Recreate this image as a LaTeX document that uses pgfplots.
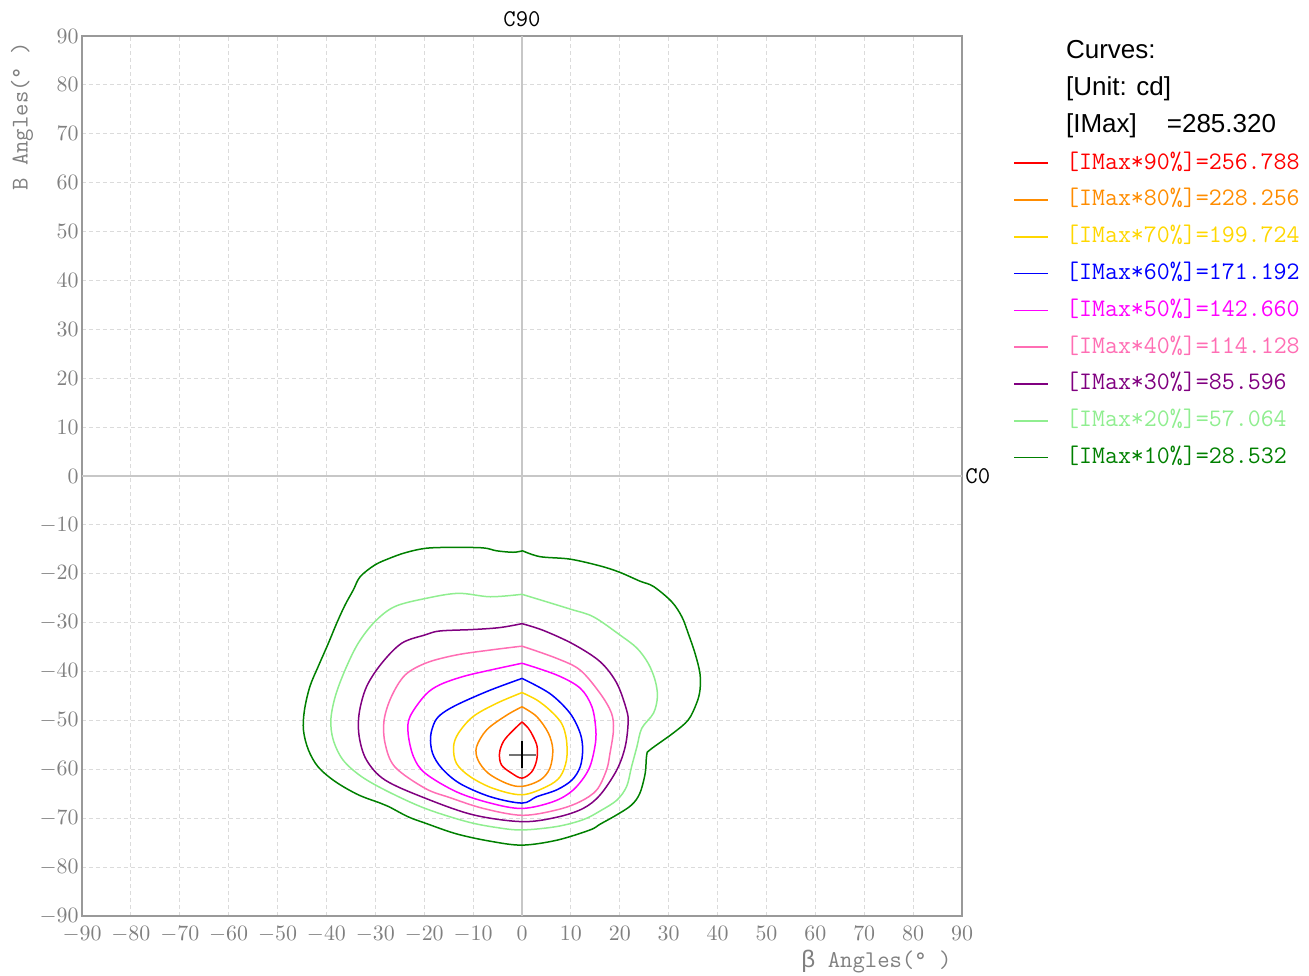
\documentclass[border=0pt]{standalone}
\usepackage{pgfplots}
\pgfplotsset{compat=1.18}
\usepackage{fontspec}
\newfontfamily\sansfont{Liberation Sans}
\newfontfamily\greekmono{Liberation Mono}
\definecolor{cA}{RGB}{255,0,0}
\definecolor{cB}{RGB}{255,140,0}
\definecolor{cC}{RGB}{255,215,0}
\definecolor{cD}{RGB}{0,0,255}
\definecolor{cE}{RGB}{255,0,255}
\definecolor{cF}{RGB}{255,110,180}
\definecolor{cG}{RGB}{128,0,128}
\definecolor{cH}{RGB}{144,238,144}
\definecolor{cI}{RGB}{0,128,0}
\definecolor{tickgray}{RGB}{128,128,128}
\pgfplotsset{ctr/.style={line width=0.75pt, smooth, tension=0.55}}
\begin{document}
\begin{tikzpicture}
\begin{axis}[
  name=ax, anchor=south west, at={(0,0)},
  scale only axis, width=440pt, height=440pt,
  xmin=-90, xmax=90, ymin=-90, ymax=90,
  xtick={-90,-80,...,90}, ytick={-90,-80,...,90},
  major tick length=0pt,
  grid=major,
  grid style={dash pattern=on 2pt off 1.5pt, color=black!14, line width=0.45pt},
  axis line style={color=black!40, line width=0.8pt},
  tick label style={color=tickgray, font=\fontsize{10.5}{12.5}\selectfont},
  yticklabel style={inner xsep=1.5pt, inner ysep=0pt},
  xticklabel style={inner ysep=0.5pt, yshift=-4.5pt},
  extra x ticks={0}, extra x tick labels={},
  extra x tick style={grid style={solid, color=black!22, line width=0.7pt}},
  extra y ticks={0}, extra y tick labels={},
  extra y tick style={grid style={solid, color=black!22, line width=0.7pt}},
  clip=false,
  legend style={at={(1.058,0.995)}, anchor=north west, draw=none, fill=none,
    inner sep=0pt, row sep=6.4pt, column sep=8.5pt,
    nodes={inner sep=0pt, text height=9pt, text depth=3pt},
    font=\ttfamily\fontsize{12.6}{14}\selectfont},
  legend cell align=left,
]
\addlegendimage{empty legend}
\addlegendentry{\sansfont\fontsize{13}{15}\selectfont Curves:}
\addlegendimage{empty legend}
\addlegendentry{\sansfont\fontsize{13}{15}\selectfont [Unit: cd]}
\addlegendimage{empty legend}
\addlegendentry{\sansfont\fontsize{13}{15}\selectfont [IMax]\hspace{15pt}=285.320}

% 90%
\addplot[cA, ctr] coordinates {(0,-50.3) (1.3,-51.6) (2.3,-53.3) (3.1,-55.4) (3,-58.1) (2,-60.5) (0,-61.8) (-2.1,-60.8) (-4.2,-59.1) (-4.6,-56.7) (-3.8,-54.3) (-2.1,-52.3) (0,-50.3)};
\addlegendentry{\textcolor{cA}{[IMax*90\%]=256.788}}
% 80%
\addplot[cB, ctr] coordinates {(0,-47.2) (3,-49.2) (5.4,-52.6) (6.3,-56) (5.7,-59.8) (3.7,-62.2) (0,-63.5) (-3.1,-62.9) (-6.9,-60.8) (-9,-58.1) (-9.3,-55.4) (-7.2,-51.9) (-3.1,-48.9) (0,-47.2)};
\addlegendentry{\textcolor{cB}{[IMax*80\%]=228.256}}
% 70%
\addplot[cC, ctr] coordinates {(0,-44.3) (3,-45.8) (5.7,-47.9) (8.1,-50.6) (9.1,-54) (9.1,-58.1) (7.8,-61.5) (5.1,-63.5) (0,-65.2) (-5.9,-63.9) (-10.6,-61.5) (-13.4,-58.8) (-14,-55.4) (-13,-52.6) (-10,-49.2) (-5.2,-46.5) (0,-44.3)};
\addlegendentry{\textcolor{cC}{[IMax*70\%]=199.724}}
% 60%
\addplot[cD, ctr] coordinates {(0,-41.4) (5.7,-44.5) (9.8,-48.5) (11.9,-52.6) (12.4,-56) (11.9,-59.5) (10.2,-62.2) (7.1,-64.2) (3,-65.6) (0,-66.9) (-6.5,-65.6) (-12.7,-62.9) (-16.4,-59.8) (-18.3,-56.7) (-18.7,-53.3) (-17.8,-50.2) (-16.1,-48.4) (-12.7,-46.5) (-6.5,-43.8) (0,-41.4)};
\addlegendentry{\textcolor{cD}{[IMax*60\%]=171.192}}
% 50%
\addplot[cE, ctr] coordinates {(0,-38.3) (7.1,-40.7) (11.9,-43.4) (14.3,-47.2) (15.1,-51.9) (14.9,-55.4) (13.6,-60.1) (10.5,-64.2) (6.4,-66.6) (0,-68) (-6.5,-66.9) (-13.4,-64.6) (-19.8,-60.8) (-22.2,-57.4) (-23.3,-52.6) (-22.9,-49.2) (-19.8,-44.8) (-16.8,-42.7) (-12,-41) (-6.5,-39.7) (0,-38.3)};
\addlegendentry{\textcolor{cE}{[IMax*50\%]=142.660}}
% 40%
\addplot[cF, ctr] coordinates {(0,-34.8) (7.1,-37.3) (11.9,-39.7) (16,-44.5) (18.3,-48.5) (18.7,-52) (18,-56.7) (17.3,-60.1) (15.3,-64.2) (11.9,-66.6) (7.1,-68.3) (0,-69.4) (-7.9,-68) (-14.7,-65.8) (-19.8,-63.9) (-26,-59.5) (-28,-54.7) (-28.2,-49.9) (-26.7,-45.1) (-23.9,-40.7) (-19.5,-38.2) (-13.4,-36.6) (-6.5,-35.6) (0,-34.8)};
\addlegendentry{\textcolor{cF}{[IMax*40\%]=114.128}}
% 30%
\addplot[cG, ctr] coordinates {(0,-30.2) (4.4,-31.6) (10.5,-34.4) (16,-38) (19.4,-42.4) (21.4,-47.9) (21.7,-50.6) (21.1,-55.4) (19.4,-60.1) (16,-65.2) (12.5,-68) (7.1,-69.8) (0,-70.7) (-10,-69.3) (-19.8,-65.9) (-28,-62.2) (-31.8,-58.1) (-33.3,-53.3) (-33.3,-48.5) (-31.8,-43.1) (-28.7,-38.3) (-24.6,-34.2) (-19.8,-32.5) (-16.8,-31.7) (-10,-31.4) (-4.5,-31) (0,-30.2)};
\addlegendentry{\textcolor{cG}{[IMax*30\%]=85.596}}
% 20%
\addplot[cH, ctr] coordinates {(0,-24.2) (9.8,-27.2) (14.6,-28.8) (20,-32.5) (23.5,-35.2) (25.8,-38.3) (27.2,-41.7) (27.7,-45.1) (26.9,-48.5) (24.5,-51.6) (23.5,-55.4) (22.4,-59.5) (21.4,-63.5) (19.4,-66.3) (16,-68.5) (12.5,-70.3) (7.1,-71.7) (0,-72.4) (-5.2,-71.9) (-11.3,-70.7) (-19.8,-68) (-27.3,-64.6) (-32.8,-61.5) (-36.6,-58.1) (-38.6,-54) (-39.1,-49.9) (-38.2,-45.1) (-36.2,-39.7) (-33.5,-34.2) (-30.1,-29.8) (-26,-26.7) (-19.5,-25) (-13,-24) (-6.5,-24.7) (0,-24.2)};
\addlegendentry{\textcolor{cH}{[IMax*20\%]=57.064}}
% 10%
\addplot[cI, ctr] coordinates {(0.1,-15.3) (3.7,-16.5) (9.8,-17) (16,-18.4) (20,-19.7) (24.1,-21.5) (26.9,-22.6) (30.6,-25.7) (32.7,-28.8) (34,-32.2) (35.4,-36.3) (36.4,-40.4) (36.4,-43.8) (35.7,-46.5) (34,-49.9) (30.9,-52.6) (26.2,-56) (25.5,-57.1) (25.2,-60.8) (24.1,-64.9) (22.4,-67.3) (19.4,-69.3) (16,-71.2) (13.9,-72.4) (7.1,-74.5) (0,-75.5) (-6.5,-74.7) (-13.4,-73.2) (-19.8,-71) (-23.3,-69.7) (-27.3,-67.6) (-29,-66.9) (-33.5,-65.2) (-38.2,-62.5) (-41.7,-59.5) (-43.7,-56) (-44.7,-52) (-44.5,-47.9) (-43.4,-43.1) (-41.7,-39) (-39.6,-34.2) (-37.9,-30.1) (-36.2,-26.4) (-34.5,-23.3) (-33.1,-20.6) (-30.1,-18.2) (-27,-16.8) (-23.9,-15.7) (-19.8,-14.8) (-14.7,-14.6) (-8,-14.7) (-5.2,-15.3) (-1.8,-15.6) (0.1,-15.3)};
\addlegendentry{\textcolor{cI}{[IMax*10\%]=28.532}}

% maximum marker
\addplot[forget plot, black!55, line width=0.9pt, sharp plot] coordinates {(-2.6,-57.1) (2.9,-57.1)};
\addplot[forget plot, black, line width=0.9pt, sharp plot] coordinates {(0,-54.3) (0,-59.7)};

\node[anchor=south, font=\ttfamily\fontsize{12}{14}\selectfont, yshift=1pt] at (axis cs:0,90) {C90};
\node[anchor=west, inner xsep=1.5pt, font=\ttfamily\fontsize{12}{14}\selectfont] at (axis cs:90,0) {C0};
\node[anchor=east, color=tickgray, font=\ttfamily\fontsize{12}{14}\selectfont] at (rel axis cs:0.996,-0.052) {{\greekmono β} Angles(° )};
\node[rotate=90, anchor=east, color=tickgray, font=\ttfamily\fontsize{12}{14}\selectfont] at (rel axis cs:-0.068,1.001) {B Angles(° )};
\end{axis}
\pgfresetboundingbox
\path[use as bounding box] (-41pt,-29.5pt) rectangle (613.5pt,458pt);
\end{tikzpicture}
\end{document}
